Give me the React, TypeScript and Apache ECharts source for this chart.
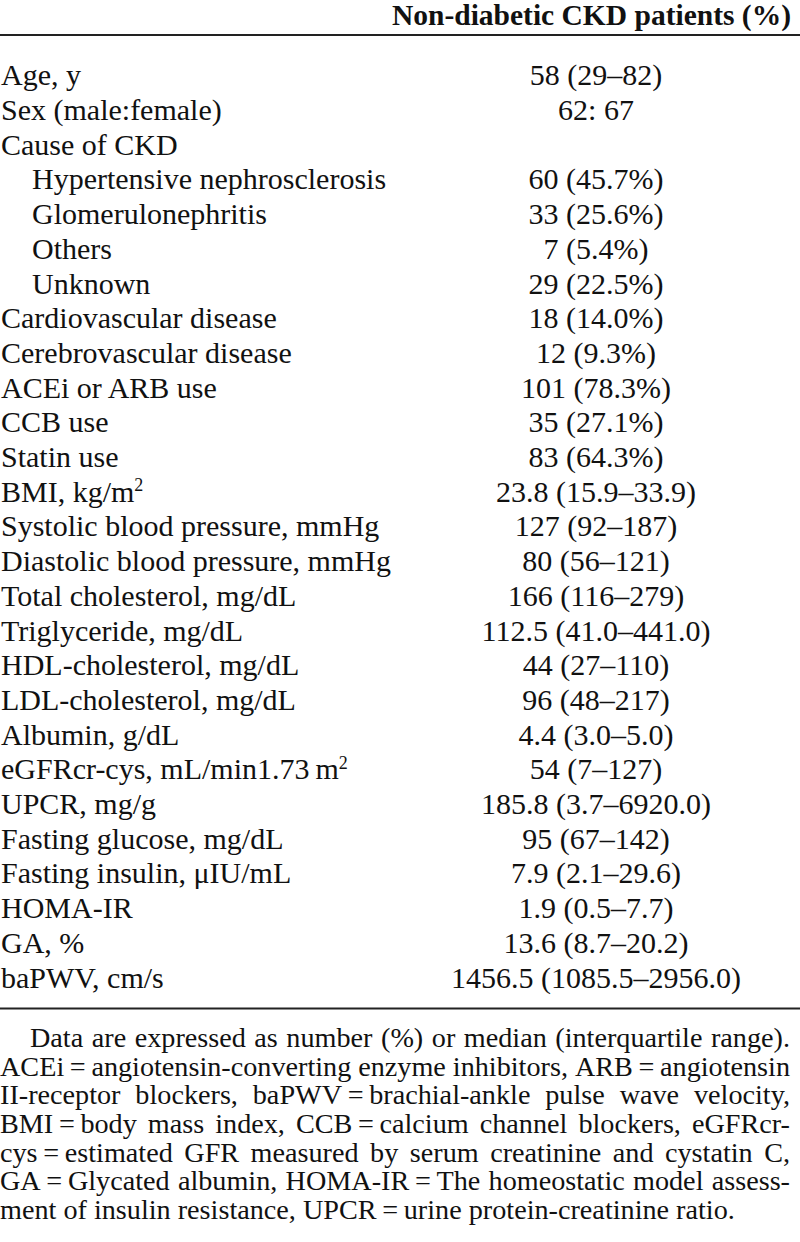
import React, { useEffect, useRef } from "react";
import * as echarts from "echarts";

const headerText = "Non-diabetic CKD patients (%)";

// {sup|...} marks a superscript fragment
const rowLabels = [
  "Age, y",
  "Sex (male:female)",
  "Cause of CKD",
  "Hypertensive nephrosclerosis",
  "Glomerulonephritis",
  "Others",
  "Unknown",
  "Cardiovascular disease",
  "Cerebrovascular disease",
  "ACEi or ARB use",
  "CCB use",
  "Statin use",
  "BMI, kg/m{sup|2}",
  "Systolic blood pressure, mmHg",
  "Diastolic blood pressure, mmHg",
  "Total cholesterol, mg/dL",
  "Triglyceride, mg/dL",
  "HDL-cholesterol, mg/dL",
  "LDL-cholesterol, mg/dL",
  "Albumin, g/dL",
  "eGFRcr-cys, mL/min1.73\u2009m{sup|2}",
  "UPCR, mg/g",
  "Fasting glucose, mg/dL",
  "Fasting insulin, \u03BCIU/mL",
  "HOMA-IR",
  "GA, %",
  "baPWV, cm/s",
];

const rowValues = [
  "58 (29\u201382)",
  "62: 67",
  "",
  "60 (45.7%)",
  "33 (25.6%)",
  "7 (5.4%)",
  "29 (22.5%)",
  "18 (14.0%)",
  "12 (9.3%)",
  "101 (78.3%)",
  "35 (27.1%)",
  "83 (64.3%)",
  "23.8 (15.9\u201333.9)",
  "127 (92\u2013187)",
  "80 (56\u2013121)",
  "166 (116\u2013279)",
  "112.5 (41.0\u2013441.0)",
  "44 (27\u2013110)",
  "96 (48\u2013217)",
  "4.4 (3.0\u20135.0)",
  "54 (7\u2013127)",
  "185.8 (3.7\u20136920.0)",
  "95 (67\u2013142)",
  "7.9 (2.1\u201329.6)",
  "1.9 (0.5\u20137.7)",
  "13.6 (8.7\u201320.2)",
  "1456.5 (1085.5\u20132956.0)",
];

const indentedRows = [3, 4, 5, 6];

const footnoteLines = [
  "Data are expressed as number (%) or median (interquartile range).",
  "ACEi = angiotensin-converting enzyme inhibitors, ARB = angiotensin",
  "II-receptor blockers, baPWV = brachial-ankle pulse wave velocity,",
  "BMI = body mass index, CCB = calcium channel blockers, eGFRcr-",
  "cys = estimated GFR measured by serum creatinine and cystatin C,",
  "GA = Glycated albumin, HOMA-IR = The homeostatic model assess-",
  "ment of insulin resistance, UPCR = urine protein-creatinine ratio.",
];

const W = 800;
const H = 1242;
const FONT = "'Liberation Serif', 'Times New Roman', Times, serif";
const INK = "#111111";

let measureCtx: CanvasRenderingContext2D | null = null;
function measure(text: string, size: number, weight = "normal"): number {
  if (!measureCtx) {
    const c = document.createElement("canvas");
    measureCtx = c.getContext("2d");
  }
  const ctx = measureCtx as CanvasRenderingContext2D;
  ctx.font = `${weight} ${size}px ${FONT}`;
  return ctx.measureText(text).width;
}

export default function App() {
  const ref = useRef<HTMLDivElement>(null);

  useEffect(() => {
    document.body.style.margin = "0";
    const chart = echarts.init(ref.current as HTMLDivElement, null, {
      renderer: "svg",
      width: W,
      height: H,
    });

    const TABLE_FS = 30;
    const HEAD_FS = 29.5;
    const FOOT_FS = 28.2;
    const rowBase0 = 85;
    const rowPitch = 34.7;
    const centerOff = 0.3375;
    const valueCenterX = 596;

    const els: any[] = [];

    els.push({
      type: "rect",
      shape: { x: 0, y: 0, width: W, height: H },
      style: { fill: "#ffffff" },
      silent: true,
    });

    // header
    els.push({
      type: "text",
      x: 791,
      y: 25 - centerOff * HEAD_FS,
      style: {
        text: headerText,
        fontFamily: FONT,
        fontSize: HEAD_FS,
        fontWeight: "bold",
        lineHeight: 26,
        fill: INK,
        align: "right",
        verticalAlign: "middle",
      },
    });

    // rules
    els.push({
      type: "line",
      shape: { x1: 0, y1: 35, x2: W, y2: 35 },
      style: { stroke: "#222", lineWidth: 2.2 },
    });
    els.push({
      type: "line",
      shape: { x1: 0, y1: 1008.5, x2: W, y2: 1008.5 },
      style: { stroke: "#222", lineWidth: 2.2 },
    });

    rowLabels.forEach((label, i) => {
      const cy = rowBase0 + i * rowPitch - centerOff * TABLE_FS;
      const hasSup = label.indexOf("{sup|") >= 0;
      els.push({
        type: "text",
        x: indentedRows.includes(i) ? 32 : 1,
        y: cy,
        style: {
          text: label,
          fontFamily: FONT,
          fontSize: TABLE_FS,
          lineHeight: 30,
          fill: INK,
          align: "left",
          verticalAlign: "middle",
          rich: hasSup
            ? {
                sup: {
                  fontFamily: FONT,
                  fontSize: 18,
                  lineHeight: 18,
                  fill: INK,
                  verticalAlign: "top",
                },
              }
            : undefined,
        },
      });
      if (rowValues[i]) {
        els.push({
          type: "text",
          x: valueCenterX,
          y: cy,
          style: {
            text: rowValues[i],
            fontFamily: FONT,
            fontSize: TABLE_FS,
            fill: INK,
            align: "center",
            verticalAlign: "middle",
          },
        });
      }
    });

    // footnote, justified
    const footBase0 = 1047.3;
    const footPitch = 28.6;
    const right = 790;
    footnoteLines.forEach((line, j) => {
      const cy = footBase0 + j * footPitch - centerOff * FOOT_FS;
      const left = j === 0 ? 30 : 0;
      const prepared = line.replace(/ = /g, "\u2009=\u2009");
      const isLast = j === footnoteLines.length - 1;
      if (isLast) {
        els.push({
          type: "text",
          x: left,
          y: cy,
          style: {
            text: prepared,
            fontFamily: FONT,
            fontSize: FOOT_FS,
            fill: INK,
            align: "left",
            verticalAlign: "middle",
          },
        });
        return;
      }
      const words = prepared.split(" ");
      const widths = words.map((w) => measure(w, FOOT_FS));
      const total = widths.reduce((a, b) => a + b, 0);
      const gap = (right - left - total) / (words.length - 1);
      let x = left;
      words.forEach((w, k) => {
        els.push({
          type: "text",
          x,
          y: cy,
          style: {
            text: w,
            fontFamily: FONT,
            fontSize: FOOT_FS,
            fill: INK,
            align: "left",
            verticalAlign: "middle",
          },
        });
        x += widths[k] + gap;
      });
    });

    chart.setOption({
      animation: false,
      graphic: { elements: els },
    });

    return () => {
      chart.dispose();
    };
  }, []);

  return <div ref={ref} style={{ width: W, height: H }} />;
}
